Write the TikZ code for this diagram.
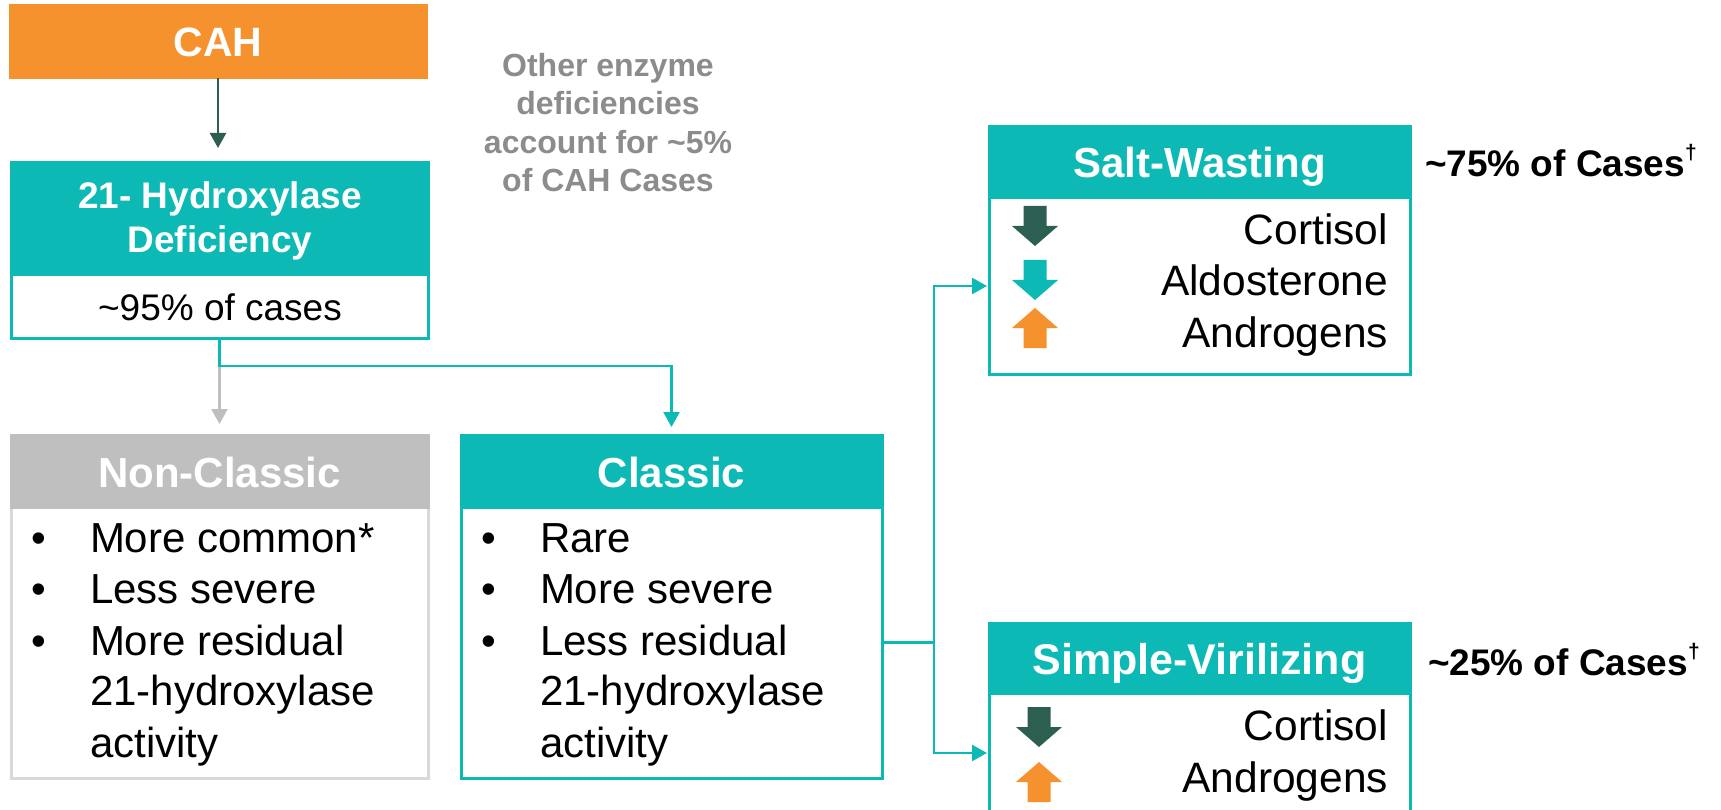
\documentclass[tikz,border=0pt]{standalone}
\usepackage{fontspec}
\setmainfont{Liberation Sans}
\usetikzlibrary{arrows.meta,calc}

\definecolor{cahorange}{HTML}{F6922D}
\definecolor{cahteal}{HTML}{0DB9B4}
\definecolor{cahgray}{HTML}{BFBFBF}
\definecolor{cahlightgray}{HTML}{D9D9D9}
\definecolor{cahdark}{HTML}{2C5F52}
\definecolor{notegray}{HTML}{8C8C8C}

\newcommand\fs[1]{\fontsize{#1}{#1}\selectfont}
\newcommand\casedag{\raisebox{17pt}{\fs{21}\bfseries\textdagger}}

\begin{document}
\begin{tikzpicture}[x=1pt,y=-1pt,
  box/.style={rectangle, inner sep=0pt, outer sep=0pt, anchor=north west, line width=3pt},
  hdr/.style={box, fill=#1, draw=#1},
  bodybox/.style={box, fill=white, draw=#1},
  lbl/.style={inner sep=0pt, outer sep=0pt},
  headtxt/.style={lbl, anchor=base, text=white, font=\fs{#1}\bfseries},
  itemtxt/.style={lbl, anchor=base west, font=\fs{42}},
  leveltxt/.style={lbl, anchor=base east, font=\fs{42.5}},
  pcttxt/.style={lbl, anchor=base west, font=\fs{37}\bfseries},
  notetxt/.style={lbl, anchor=base, text=notegray, font=\fs{32}\bfseries},
  link/.style={line width=2.5pt, draw=cahteal},
  tip/.style={-{Triangle[length=15pt,width=16pt]}},
  pics/downicon/.style={code={\fill[#1] (-11.5,0) -- (11.5,0) -- (11.5,20) -- (23,20) -- (0,40) -- (-23,20) -- (-11.5,20) -- cycle;}},
  pics/upicon/.style={code={\fill[#1] (-11.5,40) -- (11.5,40) -- (11.5,20) -- (23,20) -- (0,0) -- (-23,20) -- (-11.5,20) -- cycle;}},
]
\useasboundingbox (0,0) rectangle (1721,810);
\fill[white] (0,0) rectangle (1721,810);
\clip (0,0) rectangle (1721,810);

% --- boxes (body first, header on top) ---
\node[hdr=cahorange, minimum width=416pt, minimum height=72pt] (cah) at (10,6) {};

\node[bodybox=cahteal, minimum width=417pt, minimum height=63pt] (ohdb) at (11,275) {};
\node[hdr=cahteal, minimum width=417pt, minimum height=112pt] (ohdh) at (11,163) {};

\node[bodybox=cahlightgray, minimum width=417pt, minimum height=271pt] (ncb) at (11,507) {};
\node[hdr=cahgray, minimum width=417pt, minimum height=72pt] (nch) at (11,435) {};

\node[bodybox=cahteal, minimum width=421pt, minimum height=271pt] (clb) at (461,507) {};
\node[hdr=cahteal, minimum width=421pt, minimum height=72pt] (clh) at (461,435) {};

\node[bodybox=cahteal, minimum width=421pt, minimum height=176pt] (swb) at (989,198) {};
\node[hdr=cahteal, minimum width=421pt, minimum height=71pt] (swh) at (989,127) {};

\node[bodybox=cahteal, minimum width=421pt, minimum height=120pt] (svb) at (989,693) {};
\node[hdr=cahteal, minimum width=421pt, minimum height=70pt] (svh) at (989,623) {};

% --- connectors ---
\draw[line width=2.5pt, cahdark, tip, shorten >=15pt] (cah.south) -- (cah.south |- ohdh.north);

\coordinate (split) at ($(ohdb.south)+(0,28)$);
\draw[line width=2.5pt, cahgray, tip, shorten >=11pt] (split) -- (nch.north);
\draw[link, tip, shorten >=8pt] (ohdb.south) -- (split) -| (clh.north);

\coordinate (fork) at ($(clb.east)+(52,0)$);
\draw[link] (clb.east) -- (fork);
\draw[link, tip, shorten >=2pt] (fork) |- (swb.west);
\draw[link, tip, shorten >=2pt] (fork) |- (svb.west);

% --- texts ---
\node[headtxt=41] (cahtxt) at (218,57) {CAH};
\node[headtxt=37] (ohdt1) at (220,209) {21- Hydroxylase};
\node[headtxt=37] (ohdt2) at (220,253) {Deficiency};
\node[lbl, anchor=base, font=\fs{37}] (ohdt3) at (220,320) {\textasciitilde 95\% of cases};

\node[notetxt] (note1) at (608,77) {Other enzyme};
\node[notetxt] (note2) at (608,115) {deficiencies};
\node[notetxt] (note3) at (608,154) {account for \textasciitilde 5\%};
\node[notetxt] (note4) at (608,192) {of CAH Cases};

\node[headtxt=42] (nctitle) at (219.5,487) {Non-Classic};
\node[itemtxt] (ncb1) at (31,552) {\textbullet};
\node[itemtxt] (ncb2) at (31,603) {\textbullet};
\node[itemtxt] (ncb3) at (31,655) {\textbullet};
\node[itemtxt] (nci1) at (90,552) {More common*};
\node[itemtxt] (nci2) at (90,603) {Less severe};
\node[itemtxt] (nci3) at (90,655) {More residual};
\node[itemtxt] (nci4) at (90,705) {21-hydroxylase};
\node[itemtxt] (nci5) at (90,757) {activity};

\node[headtxt=42] (cltitle) at (671.5,487) {Classic};
\node[itemtxt] (clb1) at (481,552) {\textbullet};
\node[itemtxt] (clb2) at (481,603) {\textbullet};
\node[itemtxt] (clb3) at (481,655) {\textbullet};
\node[itemtxt] (cli1) at (540,552) {Rare};
\node[itemtxt] (cli2) at (540,603) {More severe};
\node[itemtxt] (cli3) at (540,655) {Less residual};
\node[itemtxt] (cli4) at (540,705) {21-hydroxylase};
\node[itemtxt] (cli5) at (540,757) {activity};

\node[headtxt=42] (swtitle) at (1199.5,178) {Salt-Wasting};
\node[pcttxt] (swpct) at (1425,177) {\textasciitilde 75\% of Cases\casedag};
\node[leveltxt] (sw1) at (1388,245) {Cortisol};
\node[leveltxt] (sw2) at (1388,296) {Aldosterone};
\node[leveltxt] (sw3) at (1388,347) {Androgens};
\pic at (1035,206) {downicon=cahdark};
\pic at (1035,260) {downicon=cahteal};
\pic at (1035,308) {upicon=cahorange};

\node[headtxt=43] (svtitle) at (1199.5,674) {Simple-Virilizing};
\node[pcttxt] (svpct) at (1428,675) {\textasciitilde 25\% of Cases\casedag};
\node[leveltxt] (sv1) at (1388,740) {Cortisol};
\node[leveltxt] (sv2) at (1388,792) {Androgens};
\pic at (1039,707) {downicon=cahdark};
\pic at (1039,762) {upicon=cahorange};
\end{tikzpicture}
\end{document}
